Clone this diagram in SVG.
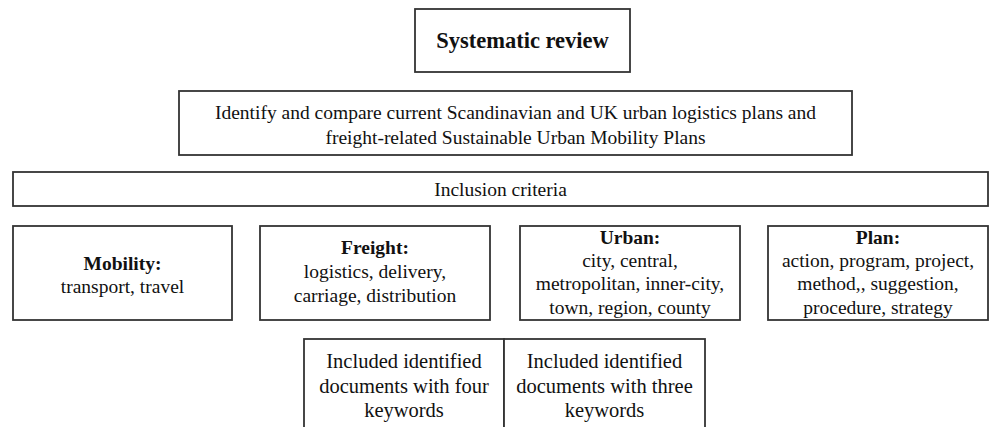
<svg xmlns="http://www.w3.org/2000/svg" width="990" height="427" viewBox="0 0 990 427">
<style>
.box{fill:#fff;stroke:#333;stroke-width:1.8}
text{font-family:"Liberation Serif","Times New Roman",serif;font-size:19.5px;fill:#111;text-anchor:middle}
.b{font-weight:bold}
.t{font-size:22.5px;font-weight:bold}
.k{font-size:20.5px}
</style>
<rect width="990" height="427" fill="#fff"/>
<g id="systematic-review">
<rect class="box" x="415" y="9" width="215" height="63"/>
<text class="t" x="522.5" y="48">Systematic review</text>
</g>
<g id="identify">
<rect class="box" x="179" y="91" width="673" height="64"/>
<text x="515.5" y="119">Identify and compare current Scandinavian and UK urban logistics plans and</text>
<text x="515.5" y="144">freight-related  Sustainable Urban Mobility Plans</text>
</g>
<g id="inclusion-criteria">
<rect class="box" x="13" y="172" width="975" height="34"/>
<text x="500.5" y="196">Inclusion criteria</text>
</g>
<g id="mobility">
<rect class="box" x="13" y="226" width="219" height="94"/>
<text class="b" x="122.5" y="270">Mobility:</text>
<text x="122.5" y="293">transport, travel</text>
</g>
<g id="freight">
<rect class="box" x="260" y="226" width="230" height="94"/>
<text class="b" x="375" y="254">Freight:</text>
<text x="375" y="278">logistics, delivery,</text>
<text x="375" y="302">carriage, distribution</text>
</g>
<g id="urban">
<rect class="box" x="520" y="226" width="220" height="94"/>
<text class="b" x="630" y="244">Urban:</text>
<text x="630" y="267">city, central,</text>
<text x="630" y="290">metropolitan, inner-city,</text>
<text x="630" y="314">town, region, county</text>
</g>
<g id="plan">
<rect class="box" x="768" y="226" width="220" height="94"/>
<text class="b" x="878" y="244">Plan:</text>
<text x="878" y="267">action, program, project,</text>
<text x="878" y="290">method,, suggestion,</text>
<text x="878" y="314">procedure, strategy</text>
</g>
<g id="four-keywords">
<rect class="box" x="304" y="339" width="200" height="100"/>
<text class="k" x="404" y="368">Included identified</text>
<text class="k" x="404" y="393">documents with four</text>
<text class="k" x="404" y="417">keywords</text>
</g>
<g id="three-keywords">
<rect class="box" x="504" y="339" width="201" height="100"/>
<text class="k" x="604.5" y="368">Included identified</text>
<text class="k" x="604.5" y="393">documents with three</text>
<text class="k" x="604.5" y="417">keywords</text>
</g>
<g id="connectors"/>
</svg>
